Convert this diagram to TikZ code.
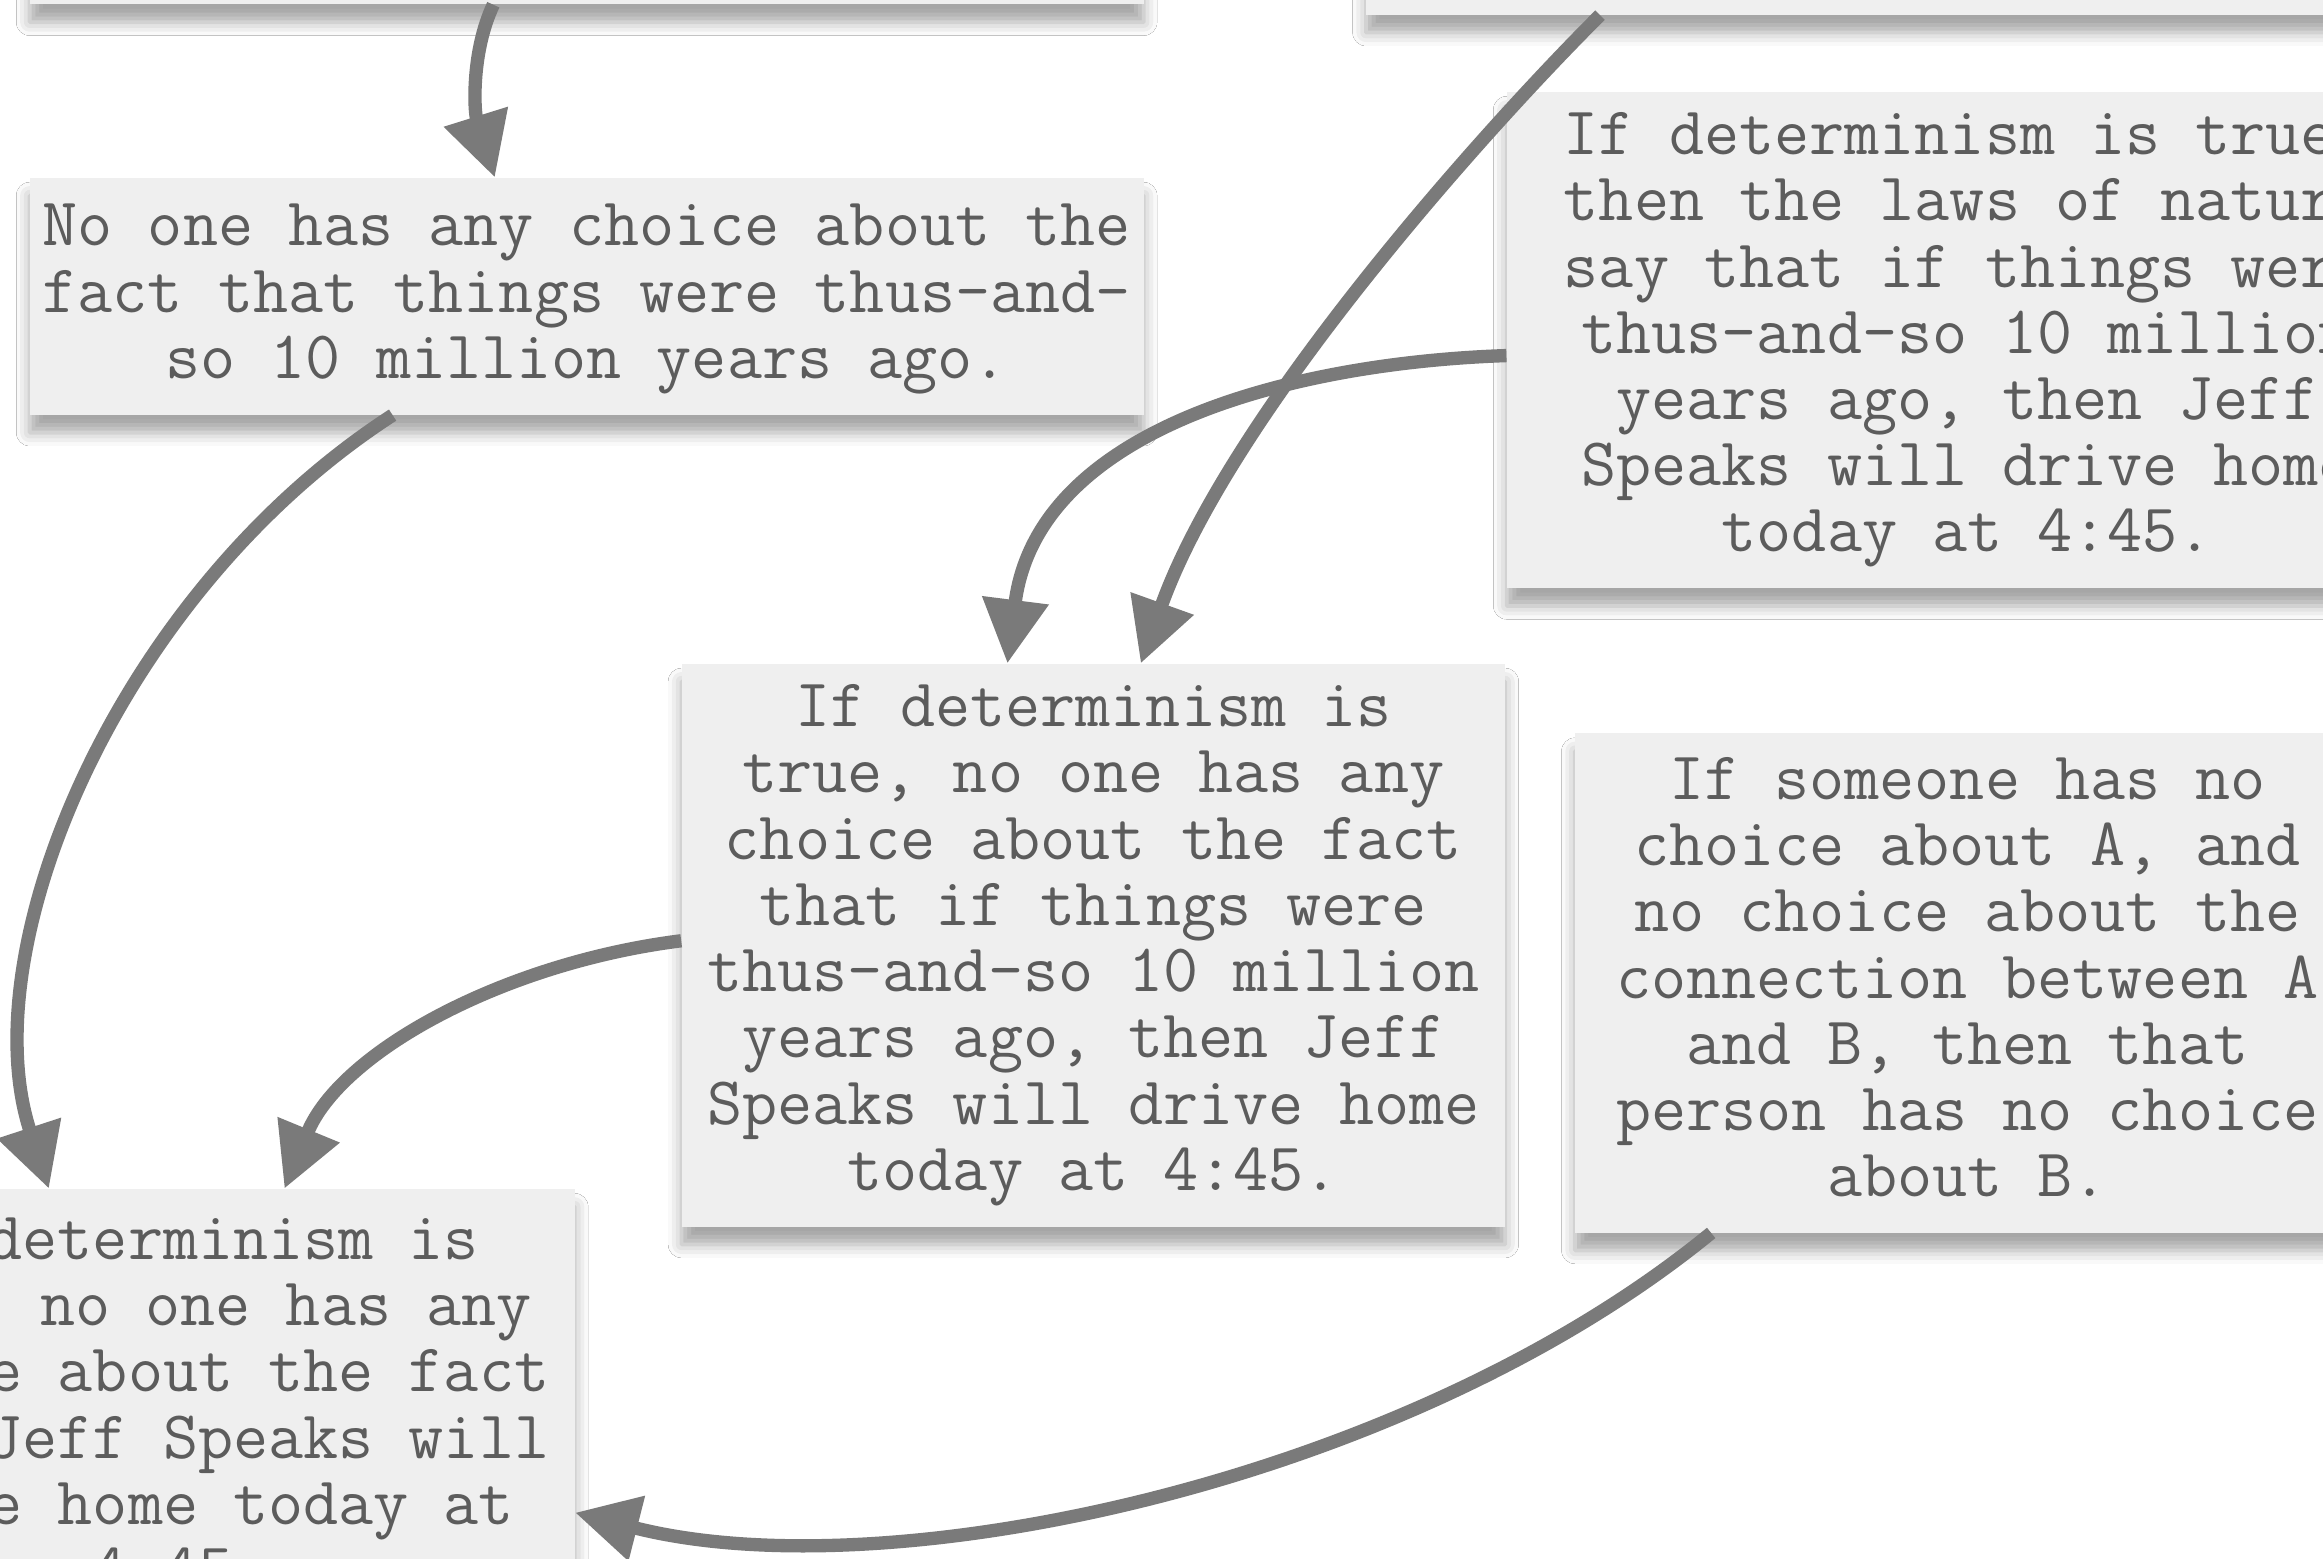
\documentclass[tikz,border=0pt]{standalone}
\usetikzlibrary{arrows.meta,shadows.blur}
\definecolor{paper}{RGB}{239,239,239}
\definecolor{txt}{RGB}{92,92,92}
\definecolor{arrowc}{RGB}{122,122,122}
\tikzset{
  card/.style={fill=paper, inner sep=0pt, text=txt, align=center,
    font=\fontsize{46}{44.7}\selectfont\ttfamily,
    blur shadow={shadow xshift=0pt, shadow yshift=-12pt, shadow blur radius=9pt, shadow opacity=35}},
  conn/.style={draw=arrowc, line width=9pt, -{Triangle[length=43pt,width=43pt]}}
}
\begin{document}
\begin{tikzpicture}[x=1pt,y=1pt]
\useasboundingbox (0,0) rectangle (1568,-1052);
\fill[white] (0,0) rectangle (1568,-1052);
% boxes
\node[card, minimum width=752pt, minimum height=153pt] (A) at (396,73.5) {};
\node[card, minimum width=778pt, minimum height=160pt] (B) at (1311,70) {};
\node[card, minimum width=752pt, minimum height=160pt] (C) at (396,-200)
  {\rule{0pt}{32pt}No one has any choice about the\\fact that things were thus-and-\\so 10 million years ago.};
\node[card, minimum width=622pt, minimum height=335pt] (D) at (1328,-229.5)
  {If determinism is true,\\then the laws of nature\\say that if things were\\thus-and-so 10 million\\years ago, then Jeff\\Speaks will drive home\\today at 4:45.};
\node[card, minimum width=556pt, minimum height=380pt] (E) at (738,-638)
  {If determinism is\\true, no one has any\\choice about the fact\\that if things were\\thus-and-so 10 million\\years ago, then Jeff\\Speaks will drive home\\today at 4:45.};
\node[card, minimum width=530pt, minimum height=337pt] (F) at (1328,-663.5)
  {If someone has no\\choice about A, and\\no choice about the\\connection between A\\and B, then that\\person has no choice\\about B.\\[-36.7pt]};
\node[card, minimum width=532pt, minimum height=291pt] (G) at (122,-948)
  {If determinism is\\true, no one has any\\choice about the fact\\that Jeff Speaks will\\drive home today at\\4:45.};
% connectors
\draw[conn] (333,0 |- A.south) .. controls (318,-35) and (320,-75) .. (334,0 |- C.north);
\draw[conn] (1080,0 |- B.south) .. controls (1000,-90) and (830,-280) .. (770,0 |- E.north);
\draw[conn] (D.west |- 0,-240) .. controls (870,-245) and (700,-290) .. (680,0 |- E.north);
\draw[conn] (265,0 |- C.south) .. controls (80,-400) and (-20,-640) .. (33,0 |- G.north);
\draw[conn] (E.west |- 0,-635) .. controls (340,-650) and (230,-710) .. (192,0 |- G.north);
\draw[conn] (1155,0 |- F.south) .. controls (950,-1000) and (600,-1075) .. (G.east |- 0,-1021);
\end{tikzpicture}
\end{document}
